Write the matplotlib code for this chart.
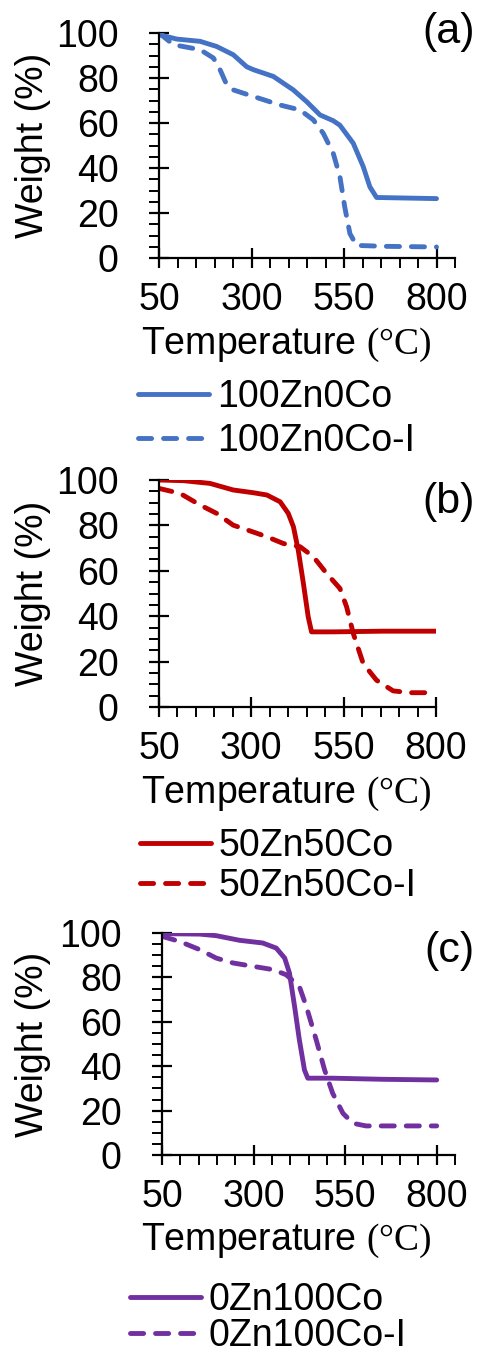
"""
TGA krivulje za tri uzorka (a), (b), (c).
"""

import matplotlib.pyplot as plt
from matplotlib.ticker import MultipleLocator

plt.rcParams['font.family'] = ['Liberation Sans', 'DejaVu Sans']
plt.rcParams['mathtext.fontset'] = 'custom'
plt.rcParams['mathtext.rm'] = 'Liberation Serif'

FS = 27

# (a) 100Zn0Co
temp_a = [50, 98, 161, 206, 251, 287, 305, 359, 413, 449, 485, 521, 539,
          575, 602, 620, 638, 701, 800]
weight_a = [99.3, 97.3, 96.3, 94.0, 90.3, 85.0, 83.7, 80.7, 74.7, 69.5, 63.6,
            61.0, 59.0, 51.0, 40.6, 31.6, 26.9, 26.7, 26.4]
temp_a_i = [50, 89, 161, 197, 215, 233, 251, 305, 377, 431, 467, 494, 521,
            539, 552, 566, 584, 656, 800]
weight_a_i = [100, 94.8, 92.6, 88.9, 83.7, 77.0, 74.7, 71.8, 68.0, 65.8, 61.4,
              55.4, 46.5, 36.1, 22.7, 10.8, 5.6, 5.2, 4.9]

# (b) 50Zn50Co
temp_b = [50, 116, 188, 251, 305, 342, 378, 400, 414, 427, 441, 454, 463,
          522, 657, 800]
weight_b = [100, 99.7, 98.5, 95.6, 94.4, 93.4, 90.4, 85.3, 79.4, 69.1, 54.4,
            39.7, 33.1, 33.1, 33.4, 33.4]
temp_b_i = [50, 107, 161, 206, 251, 296, 342, 387, 432, 468, 504, 540, 558,
            576, 603, 639, 684, 729, 800]
weight_b_i = [96.3, 94.1, 89.0, 85.3, 80.1, 77.6, 75.0, 72.0, 70.6, 66.2,
              58.8, 52.2, 44.1, 32.4, 19.1, 11.8, 7.1, 6.3, 6.3]

# (c) 0Zn100Co
temp_c = [50, 153, 198, 262, 325, 362, 385, 398, 412, 425, 439, 448, 516,
          653, 800]
weight_c = [99.7, 99.5, 98.8, 96.7, 95.5, 93.2, 88.7, 82.0, 66.9, 51.9, 38.3,
            34.6, 34.6, 34.1, 33.8]
temp_c_i = [50, 98, 153, 198, 244, 298, 353, 389, 425, 444, 471, 494, 516,
            544, 571, 607, 800]
weight_c_i = [98.5, 96.2, 92.5, 88.7, 86.5, 85.0, 83.5, 81.2, 75.9, 66.9,
              51.9, 38.3, 27.8, 18.8, 14.3, 13.1, 13.1]

W, H = 482, 1352


def panel(rect, xmax, x1, y1, x2, y2, color, labels, tag, tag_y,
          leg_x, leg_y, leg_sp):
    left, right, top, bottom = rect
    ax = fig.add_axes([left / W, 1 - bottom / H,
                       (right - left) / W, (bottom - top) / H])
    l1, = ax.plot(x1, y1, color=color, lw=3.5, solid_capstyle='round',
                  solid_joinstyle='round', label=labels[0])
    l2, = ax.plot(x2, y2, color=color, lw=3.5, ls=(0, (2.7, 2.45)),
                  dash_capstyle='round', label=labels[1])
    ax.set_xlim(50, xmax)
    ax.set_ylim(0, 100)
    ax.xaxis.set_major_locator(plt.FixedLocator([50, 300, 550, 800]))
    ax.xaxis.set_minor_locator(plt.FixedLocator(range(50, xmax + 1, 50)))
    ax.yaxis.set_major_locator(MultipleLocator(20))
    ax.yaxis.set_minor_locator(MultipleLocator(5))
    for s in ['top', 'right']:
        ax.spines[s].set_visible(False)
    for s in ['left', 'bottom']:
        ax.spines[s].set_linewidth(1.6)
    ax.tick_params(which='major', direction='inout', length=14, width=1.6,
                   labelsize=FS)
    ax.tick_params(which='minor', direction='out', length=7, width=1.4)
    ax.tick_params(axis='x', which='major', pad=10)
    ax.tick_params(axis='y', which='major', pad=22)
    ax.set_xlabel('Temperature $\\mathrm{(°C)}$', fontsize=FS)
    ax.xaxis.set_label_coords((286 - left) / (right - left), -0.3)
    ax.set_ylabel('Weight (%)', fontsize=FS, va='center')
    ax.yaxis.set_label_coords(-(left - 33) / (right - left), 0.5)
    fig.text(449 / W, 1 - tag_y / H, tag, fontsize=31, ha='center',
             va='center')
    fig.legend(handles=[l1, l2], loc='center left',
               bbox_to_anchor=(leg_x / W, 1 - leg_y / H), frameon=False,
               fontsize=FS, handlelength=1.9, handletextpad=0.2,
               labelspacing=leg_sp, borderpad=0, borderaxespad=0)
    return ax


fig = plt.figure(figsize=(W / 100, H / 100), dpi=100)

panel((159, 455, 33, 258), 850, temp_a, weight_a, temp_a_i, weight_a_i,
      '#4472C4', ['100Zn0Co', '100Zn0Co-I'], '(a)', 32, 138, 419, 0.2)
panel((159, 436, 480, 707), 800, temp_b, weight_b, temp_b_i, weight_b_i,
      '#C00000', ['50Zn50Co', '50Zn50Co-I'], '(b)', 502, 140, 866, 0.12)
panel((162, 455, 933, 1155), 850, temp_c, weight_c, temp_c_i, weight_c_i,
      '#7030A0', ['0Zn100Co', '0Zn100Co-I'], '(c)', 951, 130, 1318, 0.0)

plt.savefig('out.png', dpi=100)
